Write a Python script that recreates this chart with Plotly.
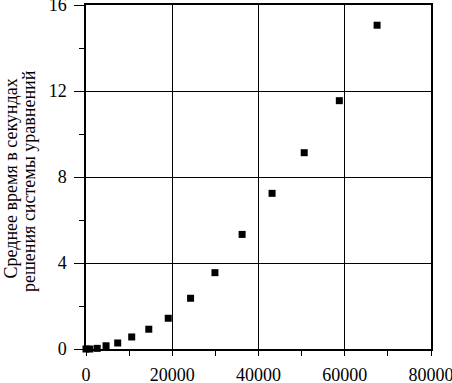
import plotly.graph_objects as go

# data
n_equations = [0, 900, 2600, 4650, 7350, 10600, 14560, 19070, 24250, 29900, 36200, 43150, 50600, 58740, 67500]
mean_time = [0.0, 0.0, 0.03, 0.15, 0.28, 0.56, 0.92, 1.43, 2.36, 3.55, 5.33, 7.24, 9.13, 11.55, 15.06]
x_ticks = [0, 20000, 40000, 60000, 80000]
y_ticks = [0, 4, 8, 12, 16]
title_line1 = "Среднее время в секундах"
title_line2 = "решения системы уравнений"

W, H = 452, 383
ml, mr, mt, mb = 86, 21, 5, 34
pw = W - ml - mr
ph = H - mt - mb

font = dict(family="Times New Roman, Liberation Serif, Tinos, serif", color="black")

fig = go.Figure()
fig.add_trace(go.Scatter(
    x=n_equations, y=mean_time, mode="markers",
    marker=dict(symbol="square", size=7, color="black", line=dict(width=0)),
    showlegend=False, cliponaxis=False,
))

axis_common = dict(
    showline=True, linecolor="black", linewidth=1.5, mirror=True,
    showgrid=True, gridcolor="black", gridwidth=1.2,
    ticks="outside", tickcolor="black", tickwidth=1.2,
    zeroline=False, tickfont=dict(size=18, **font),
    automargin=False, ticklabeloverflow="allow",
)

fig.update_xaxes(range=[0, 80000], tickvals=x_ticks, ticktext=[str(v) for v in x_ticks],
                 ticklen=5, ticklabelstandoff=4,
                 minor=dict(ticks="outside", dtick=10000, ticklen=5, tickcolor="black", tickwidth=1.2, showgrid=False),
                 **axis_common)
fig.update_yaxes(range=[0, 16], tickvals=y_ticks, ticktext=[str(v) for v in y_ticks],
                 ticklen=10, ticklabelstandoff=4,
                 minor=dict(ticks="outside", dtick=2, ticklen=5, tickcolor="black", tickwidth=1.2, showgrid=False),
                 **axis_common)

fig.add_annotation(text=title_line1, textangle=-90, xref="paper", yref="paper",
                   x=(10 - ml) / pw, y=(H - mb - 178.5) / ph, xanchor="center", yanchor="middle",
                   showarrow=False, font=dict(size=18, **font))
fig.add_annotation(text=title_line2, textangle=-90, xref="paper", yref="paper",
                   x=(29 - ml) / pw, y=(H - mb - 181) / ph, xanchor="center", yanchor="middle",
                   showarrow=False, font=dict(size=18, **font))

fig.update_layout(
    width=W, height=H,
    margin=dict(l=ml, r=mr, t=mt, b=mb),
    paper_bgcolor="white", plot_bgcolor="white",
)

fig.write_html("out.html", config={"displayModeBar": False},
               post_script="document.body.style.margin='0';")
